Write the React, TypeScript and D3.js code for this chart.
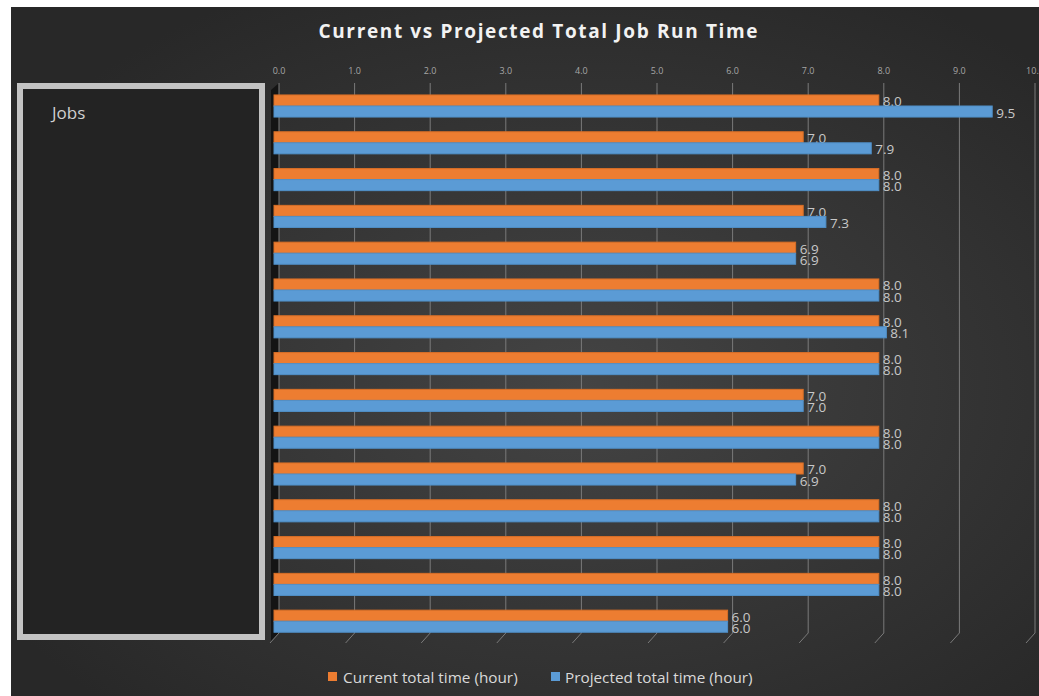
import React from "react";
import * as d3 from "d3";

const title = "Current vs Projected Total Job Run Time";
const jobs = ["Job 1","Job 2","Job 3","Job 4","Job 5","Job 6","Job 7","Job 8","Job 9","Job 10","Job 11","Job 12","Job 13","Job 14","Job 15"];
const seriesNames = ["Current total time (hour)", "Projected total time (hour)"];
const currentHours = [8.0, 7.0, 8.0, 7.0, 6.9, 8.0, 8.0, 8.0, 7.0, 8.0, 7.0, 8.0, 8.0, 8.0, 6.0];
const projectedHours = [9.5, 7.9, 8.0, 7.3, 6.9, 8.0, 8.1, 8.0, 7.0, 8.0, 6.9, 8.0, 8.0, 8.0, 6.0];
const xTicks = [0, 1, 2, 3, 4, 5, 6, 7, 8, 9, 10];
const colors = ["#ED7D31", "#5B9BD5"];
const strokes = ["#d86f27", "#5090c8"];

export default function App() {
  const W = 1039, H = 696;
  const x = d3.scaleLinear().domain([0, 10]).range([279, 1035]);
  const depth = 5;
  const xb = (v: number) => x(v) - depth;
  const y = d3.scaleBand<string>().domain(jobs).range([87.6, 639.6]).paddingInner(0.4).paddingOuter(0.2);
  const ys = d3.scaleBand<string>().domain(seriesNames).range([0, y.bandwidth()]);
  const values = [currentHours, projectedHours];
  const gridTop = 83, gridBot = 633;
  const font = "'Open Sans', 'Noto Sans', sans-serif";

  return (
    <svg width={W} height={H} style={{ position: "absolute", left: 0, top: 0, background: "#fff" }}>
      <defs>
        <radialGradient id="bg" cx="55%" cy="55%" r="65%">
          <stop offset="0%" stopColor="#444444" />
          <stop offset="100%" stopColor="#282828" />
        </radialGradient>
      </defs>
      <rect x={11} y={7} width={W - 11} height={H - 7} fill="url(#bg)" />
      <text x={538} y={38} textAnchor="middle" fill="#f2f2f2" fontFamily={font} fontWeight="bold" fontSize={19} textLength={439} lengthAdjust="spacing">{title}</text>

      {/* left wall */}
      <polygon points={`271,${gridTop + 7} 279,${gridTop} 279,${gridBot} 271,${gridBot + 8}`} fill="#141414" />

      {/* gridlines */}
      {xTicks.map((t) => (
        <g key={t}>
          <polyline points={`${x(t)},${gridTop} ${x(t)},${gridBot} ${x(t) - 9},${gridBot + 10}`} fill="none" stroke="#7a7a7a" strokeWidth={1} />
          <text x={x(t)} y={74} textAnchor="middle" fill="#a6a6a6" fontFamily={font} fontSize={9}>{t.toFixed(1)}</text>
        </g>
      ))}

      {/* bars */}
      {jobs.map((j, i) => (
        <g key={j}>
          {seriesNames.map((s, k) => {
            const v = values[k][i];
            const yy = (y(j) as number) + (ys(s) as number);
            const h = ys.bandwidth();
            return (
              <g key={s}>
                <rect x={xb(0)} y={yy} width={xb(v) - xb(0)} height={h} fill={colors[k]} stroke={strokes[k]} strokeWidth={1} />
                <text x={xb(v) + 4} y={yy + h / 2 + 1} dominantBaseline="central" fill="#c8c8c8" fontFamily={font} fontSize={13.5}>{v.toFixed(1)}</text>
              </g>
            );
          })}
        </g>
      ))}

      {/* covering box */}
      <rect x={20} y={86} width={242} height={551} fill="#232323" stroke="#c3c3c3" strokeWidth={6} />
      <text x={52} y={119} fill="#d0d0d0" fontFamily={font} fontSize={17}>Jobs</text>

      {/* legend */}
      <rect x={328} y={672} width={9} height={9} fill={colors[0]} />
      <text x={343} y={677} dominantBaseline="central" fill="#d9d9d9" fontFamily={font} fontSize={15.3}>{seriesNames[0]}</text>
      <rect x={551} y={672} width={9} height={9} fill={colors[1]} />
      <text x={565} y={677} dominantBaseline="central" fill="#d9d9d9" fontFamily={font} fontSize={15.3}>{seriesNames[1]}</text>
    </svg>
  );
}
